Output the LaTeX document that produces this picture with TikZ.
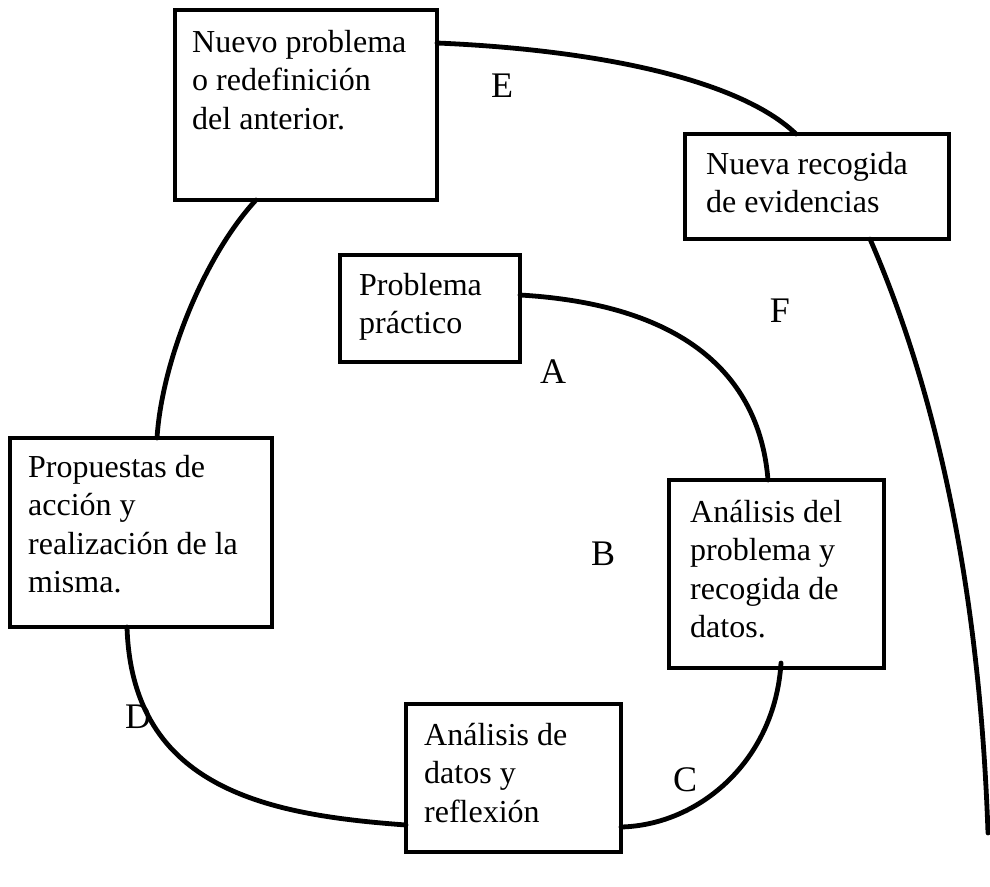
\documentclass[tikz,border=0pt]{standalone}
\usepackage{fontspec}
\setmainfont{Liberation Serif}
\begin{document}
\begin{tikzpicture}[x=1pt,y=-1pt,
  stagebox/.style={draw=black, line width=3.8pt, rectangle, inner sep=0pt, outer sep=0pt},
  boxtext/.style={anchor=north west, inner sep=0pt, align=left, font=\fontsize{32}{38.5}\selectfont},
  letter/.style={anchor=base, inner sep=0pt, font=\fontsize{36}{40}\selectfont},
  link/.style={draw=black, line width=4.8pt, line cap=round}]
\useasboundingbox (0,0) rectangle (990,886);
% boxes
\node[stagebox, minimum width=262pt, minimum height=190pt, anchor=north west] (b1) at (175,10) {};
\node[stagebox, minimum width=264pt, minimum height=105pt, anchor=north west] (b2) at (685,134) {};
\node[stagebox, minimum width=180pt, minimum height=107pt, anchor=north west] (b3) at (340,255) {};
\node[stagebox, minimum width=262pt, minimum height=189pt, anchor=north west] (b4) at (10,438) {};
\node[stagebox, minimum width=215pt, minimum height=188pt, anchor=north west] (b5) at (669,480) {};
\node[stagebox, minimum width=215pt, minimum height=148pt, anchor=north west] (b6) at (406,704) {};
% texts
\node[boxtext] (t1) at (192,25.05) {\strut Nuevo problema\\o redefinición\\del anterior.};
\node[boxtext] (t2) at (706,147.05) {\strut Nueva recogida\\de evidencias};
\node[boxtext] (t3) at (359,268.05) {\strut Problema\\práctico};
\node[boxtext] (t4) at (28,450.05) {\strut Propuestas de\\acción y\\realización de la\\misma.};
\node[boxtext] (t5) at (690,495.05) {\strut Análisis del\\problema y\\recogida de\\datos.};
\node[boxtext] (t6) at (424,718.05) {\strut Análisis de\\datos y\\reflexión};
% letters
\node[letter] (le) at (502,97) {E};
\node[letter] (lf) at (780,322) {F};
\node[letter] (la) at (553,383) {A};
\node[letter] (lb) at (603,565) {B};
\node[letter] (lc) at (685,791) {C};
\node[letter] (ld) at (138,728) {D};
\coordinate (fend) at (988,833);
% connectors
\draw[link] ([yshift=-33pt]b1.north east) .. controls (600,50) and (740,80) .. ([xshift=111pt]b2.north west);
\draw[link] ([yshift=-40pt]b3.north east) .. controls (690,305) and (760,380) .. ([xshift=99pt]b5.north west);
\draw[link] ([xshift=81pt]b1.south west) .. controls (205,255) and (162,360) .. ([xshift=147pt]b4.north west);
\draw[link] ([xshift=117pt]b4.south west) .. controls (132,790) and (270,815) .. ([yshift=-121pt]b6.north west);
\draw[link] ([yshift=-123pt]b6.north east) .. controls (700,825) and (775,760) .. ([xshift=112pt,yshift=5pt]b5.south west);
\draw[link] ([xshift=185pt]b2.south west) .. controls (940,400) and (980,600) .. (fend);
\end{tikzpicture}
\end{document}
